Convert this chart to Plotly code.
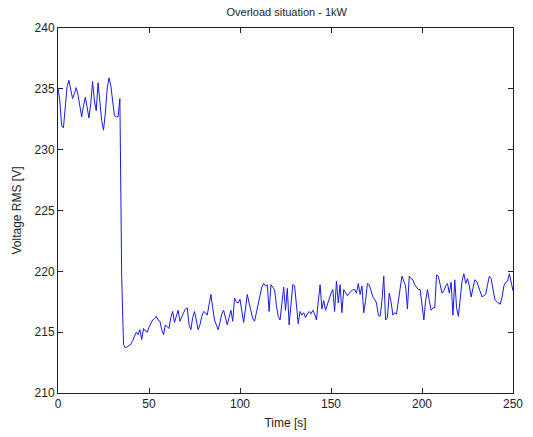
import plotly.graph_objects as go

time_s = list(range(0, 251))
voltage_rms = [
    235.1, 234.0, 232.0, 231.8, 233.5, 235.2, 235.7, 235.0, 234.2, 234.6,
    235.1, 234.5, 233.4, 232.7, 233.6, 234.3, 233.5, 232.6, 233.8, 235.6,
    234.0, 233.2, 235.5, 233.8, 232.4, 231.6, 233.0, 235.0, 235.9, 235.3,
    234.0, 232.8, 232.7, 232.7, 234.2, 219.5, 214.0, 213.7, 213.8, 213.9,
    214.0, 214.3, 214.6, 215.0, 214.8, 215.2, 214.4, 215.3, 215.1, 215.0,
    215.4, 215.7, 216.0, 216.1, 216.3, 216.0, 215.9, 215.2, 214.8, 215.6,
    215.4, 215.3, 216.2, 216.7, 215.8, 216.4, 216.8, 215.9, 216.3, 216.6,
    216.9, 217.0, 215.6, 215.2, 216.2, 216.7, 216.0, 215.2, 215.6, 216.3,
    216.7, 216.6, 216.4, 217.2, 218.1, 217.0, 216.0, 215.6, 215.2, 215.8,
    216.5, 216.8, 216.1, 215.6, 216.2, 216.8, 215.9, 217.8, 217.5, 217.4,
    217.7, 216.6, 215.8, 216.9, 218.1, 217.4, 216.7, 216.1, 215.9, 216.6,
    217.4, 218.0, 218.7, 219.0, 218.8, 218.9, 216.7, 218.9, 218.7, 218.5,
    217.2, 216.3, 216.0, 217.6, 218.7, 216.8, 218.6, 215.6, 217.0, 218.9,
    218.8, 217.2, 215.7, 216.7, 216.4, 216.6, 216.2, 216.5, 216.7, 216.5,
    216.8, 216.5, 216.0, 217.5, 218.9, 216.9, 217.6, 216.8, 217.3, 217.9,
    218.2, 218.5, 216.7, 219.2, 217.4, 218.9, 216.6, 218.5, 218.3, 218.0,
    218.2, 218.4, 218.5, 218.5, 218.2, 219.0, 218.1, 218.8, 216.6, 217.6,
    219.0, 218.9, 218.4, 217.9, 217.7, 217.4, 216.4, 216.3, 217.6, 219.6,
    216.0, 216.2, 218.2, 217.5, 216.4, 216.6, 216.5, 217.4, 218.6, 219.6,
    219.2, 218.8, 216.9, 219.6, 219.4, 219.3, 218.9, 218.7, 218.5, 218.5,
    217.4, 216.0, 217.6, 218.5, 217.6, 216.8, 217.0, 217.0, 219.7, 219.6,
    218.9, 218.2, 218.4, 218.8, 219.0, 218.2, 219.1, 216.4, 219.3, 217.0,
    216.3, 218.0, 219.2, 219.8, 219.0, 219.4, 218.8, 217.9, 218.6, 219.3,
    219.2, 218.8, 218.3, 217.9, 218.0, 218.1, 218.9, 219.6, 219.4, 218.6,
    217.7, 217.5, 217.4, 217.3, 217.9, 218.8, 219.1, 219.2, 219.8, 219.0,
    218.4,
]

x_ticks = [0, 50, 100, 150, 200, 250]
y_ticks = [210, 215, 220, 225, 230, 235, 240]

FONT = "Liberation Sans, Arial, sans-serif"
INK = "#222222"

fig = go.Figure()
fig.add_trace(go.Scatter(
    x=time_s, y=voltage_rms, mode="lines",
    line=dict(color="#1a1ae0", width=1),
    showlegend=False,
))

axis_common = dict(
    showgrid=False, zeroline=False, automargin=False,
    showline=True, linecolor=INK, linewidth=1, mirror="ticks",
    ticks="inside", ticklen=5, tickcolor=INK,
    tickfont=dict(family=FONT, size=12, color=INK),
)

fig.update_layout(
    width=533, height=437,
    margin=dict(l=58, r=20, t=28, b=44, autoexpand=False),
    paper_bgcolor="white", plot_bgcolor="white",
    title=dict(text="Overload situation - 1kW", x=0.538, xanchor="center",
               y=1 - 12 / 437, yanchor="middle", yref="container",
               font=dict(family=FONT, size=11, color=INK)),
    xaxis=dict(range=[0, 250], tickvals=x_ticks,
               title=dict(text="Time [s]", standoff=8,
                          font=dict(family=FONT, size=12, color=INK)),
               **axis_common),
    yaxis=dict(range=[210, 240], tickvals=y_ticks,
               title=dict(text="Voltage RMS [V]", standoff=10,
                          font=dict(family=FONT, size=12, color=INK)),
               **axis_common),
)

fig.write_html("out.html", config={"displayModeBar": False},
               post_script="document.body.style.margin='0';")
